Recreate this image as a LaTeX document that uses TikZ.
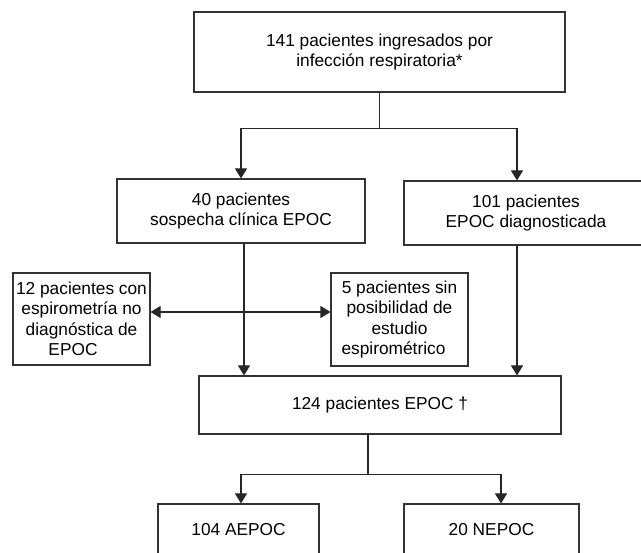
\documentclass[tikz,border=0pt]{standalone}
\usepackage{fontspec}
\setmainfont{Liberation Sans}
\usetikzlibrary{arrows.meta,calc}
\tikzset{
  box/.style={draw=black!80, line width=1.1pt, rectangle, inner sep=0pt, align=center,
    font=\fontsize{17.3}{20.5}\selectfont, text=black},
  conn/.style={draw=black!85, line width=1.1pt},
  arr/.style={conn, -{Triangle[length=10pt,width=12pt]}},
  arrboth/.style={conn, {Triangle[length=10pt,width=12pt]}-{Triangle[length=10pt,width=12pt]}}
}
\begin{document}
\begin{tikzpicture}[x=1pt,y=-1pt]
\useasboundingbox (0,0) rectangle (641,553);
\fill[white] (0,0) rectangle (641,553);

\node[box, minimum width=371pt, minimum height=80pt] (top) at (379.5,52)
  {141 pacientes ingresados por\\infección respiratoria*};
\node[box, minimum width=248pt, minimum height=64pt] (b40) at (241,211)
  {40 pacientes\\sospecha clínica EPOC};
\node[box, minimum width=244pt, minimum height=64pt] (b101) at (526,213)
  {101 pacientes\\EPOC diagnosticada};
\node[box, minimum width=137pt, minimum height=92pt] (b12) at (81.5,319)
  {12 pacientes con\\espirometría no\\diagnóstica de\\EPOC\kern17pt};
\node[box, minimum width=137pt, minimum height=93pt] (b5) at (399.5,319.5)
  {5 pacientes sin\\posibilidad de\\estudio\\espirométrico\kern12pt};
\node[box, minimum width=362pt, minimum height=58pt] (b124) at (380,405)
  {124 pacientes EPOC †};
\node[box, minimum width=161pt, minimum height=52pt] (bA) at (238.5,530)
  {104 AEPOC};
\node[box, minimum width=175pt, minimum height=52pt] (bN) at (491.5,530)
  {20 NEPOC};

% top split
\draw[conn] (top.south) -- ++(0,36) coordinate (j1);
\draw[arr] (j1) -| (b40.north);
\draw[arr] (j1) -| ([xshift=-9pt]b101.north);

% to 124
\draw[arr] ([xshift=3pt]b40.south) -- ([xshift=3pt]b40.south |- b124.north);
\draw[arr] ([xshift=-9pt]b101.south) -- ([xshift=-9pt]b101.south |- b124.north);

% double arrow
\draw[arrboth] ([yshift=7pt]b12.east) -- ([yshift=7pt]b12.east -| b5.west);

% bottom split
\draw[conn] ([xshift=-12pt]b124.south) -- ++(0,40) coordinate (j2);
\draw[arr] (j2) -| ([xshift=2.5pt]bA.north);
\draw[arr] (j2) -| ([xshift=9.5pt]bN.north);
\end{tikzpicture}
\end{document}
